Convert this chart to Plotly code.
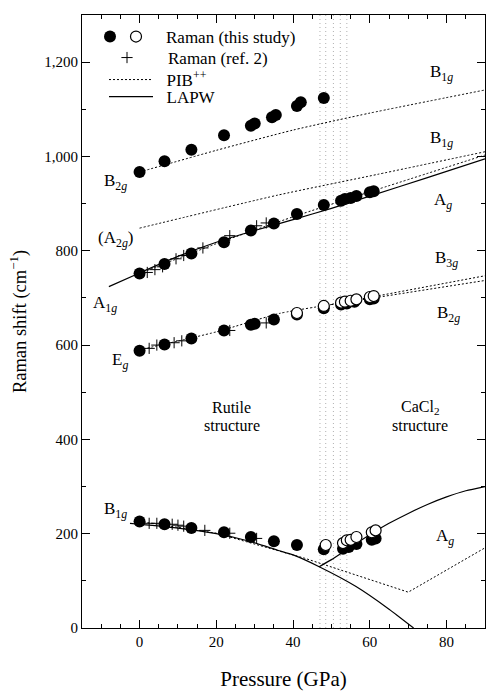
import plotly.graph_objects as go

# ---------------- data ----------------
# Raman, this study (filled circles)
b2g_P = [0, 6.5, 13.5, 22, 29, 30, 34.5, 35.5, 41, 42, 48]
b2g_R = [967, 990, 1014, 1045, 1065, 1070, 1083, 1088, 1107, 1115, 1124]
a1g_P = [0, 6.5, 13.5, 22, 29, 35, 41, 48, 52.5, 53.5, 55, 56.5, 60, 61]
a1g_R = [752, 772, 794, 818, 843, 858, 878, 897, 906, 910, 912, 916, 924, 926]
eg_P = [0, 6.5, 13.5, 22, 29, 30, 35, 41, 48, 52.5, 54, 56, 60, 61]
eg_R = [588, 601, 614, 631, 643, 645, 654, 665, 678, 686, 688, 692, 697, 699]
b1g_P = [0, 6.5, 13.5, 22, 29, 35, 41, 48, 53, 54.5, 56.5, 60.5, 61.5]
b1g_R = [226, 220, 212, 203, 193, 184, 176, 167, 168, 172, 178, 187, 190]

# Raman, this study (open circles)
eg_open_P = [41, 48, 52.5, 53.5, 55, 56.5, 60, 61]
eg_open_R = [668, 683, 690, 692, 694, 697, 702, 704]
b1g_open_P = [48.5, 53, 54, 55, 56.5, 60.5, 61.5]
b1g_open_R = [176, 180, 186, 187, 193, 203, 207]

# Raman, ref. 2 (crosses)
ref_a1g_P = [2, 4, 6, 9.5, 11.5, 16.5, 23.5, 30.5, 33]
ref_a1g_R = [754, 760, 766, 783, 790, 806, 832, 853, 859]
ref_eg_P = [2.5, 4.5, 9, 11, 23.5, 33]
ref_eg_R = [593, 600, 605, 609, 631, 647]
ref_b1g_P = [2.5, 4.5, 8.5, 10, 11.5, 17, 23.5, 30.5]
ref_b1g_R = [222, 222, 220, 218, 216, 207, 201, 190]

# PIB++ calculations (dotted)
pib_b2g_P = [0, 20, 40, 60, 90]
pib_b2g_R = [967, 1013, 1056, 1092, 1141]
pib_a2g_P = [0, 36, 62, 90]
pib_a2g_R = [848, 918, 962, 1010]
pib_a1g_P = [0, 20, 40, 60, 90]
pib_a1g_R = [752, 815, 872, 925, 1003]
pib_eg_P = [0, 20, 36.4, 50]
pib_eg_R = [590, 628, 667, 686]
pib_b3g_P = [50, 90]
pib_b3g_R = [686, 747]
pib_b2g_hp_P = [50, 90]
pib_b2g_hp_R = [686, 737]
pib_b1g_P = [0, 20, 43, 70, 90]
pib_b1g_R = [226, 201, 148, 76, 170]

# LAPW calculations (solid)
lapw_a1g_P = [-8, 0, 10, 20, 30, 40, 50, 60, 75, 90]
lapw_a1g_R = [724, 753, 788, 818, 843, 866, 890, 916, 955, 995]
lapw_b1g_P = [-2.5, 0, 10, 20, 28.6, 36, 40, 46.8, 56.4, 65, 71.4]
lapw_b1g_R = [222, 220, 212, 200, 184, 165, 155, 130, 88, 40, 0]
lapw_ag_P = [46.8, 50, 55, 60, 65, 70, 75, 80, 85, 90]
lapw_ag_R = [130, 145, 172, 198, 222, 243, 262, 278, 291, 300]

# transition region (dotted band)
transition_P = [47, 48.5, 50.5, 52.3, 54]

# ticks
x_tickvals = [0, 20, 40, 60, 80]
y_tickvals = [0, 200, 400, 600, 800, 1000, 1200]
y_ticktext = ["0", "200", "400", "600", "800", "1,000", "1,200"]

# mode labels
left_labels = ["B<sub>2<i>g</i></sub>", "(A<sub>2<i>g</i></sub>)", "A<sub>1<i>g</i></sub>",
               "E<sub><i>g</i></sub>", "B<sub>1<i>g</i></sub>"]
left_label_P = [-6.3, -6.2, -9.0, -5.2, -6.3]
left_label_R = [946, 824, 688, 566, 250]
right_labels = ["B<sub>1<i>g</i></sub>", "B<sub>1<i>g</i></sub>", "A<sub><i>g</i></sub>",
                "B<sub>3<i>g</i></sub>", "B<sub>2<i>g</i></sub>", "A<sub><i>g</i></sub>"]
right_label_P = [78.7, 78.7, 79.0, 80.0, 80.5, 79.7]
right_label_R = [1176, 1038, 906, 783, 666, 194]

structure_texts = ["Rutile", "structure", "CaCl<sub>2</sub>", "structure"]
structure_P = [24, 24, 73, 73]
structure_R = [467, 429, 467, 429]

FONT = "Liberation Serif, serif"
BLACK = "black"

fig = go.Figure()

# transition band
for p in transition_P:
    fig.add_shape(type="line", xref="x", yref="paper", x0=p, x1=p, y0=0, y1=1,
                  line=dict(color="#b0b0b0", width=1, dash="1px,3px"), layer="below")

DOT = "2px,2px"


def curve(P, R, dash, smooth=True):
    fig.add_trace(go.Scatter(x=P, y=R, mode="lines", showlegend=False, hoverinfo="skip",
                             line=dict(color=BLACK, width=1 if dash != "solid" else 1.2,
                                       dash=dash, shape="spline" if smooth else "linear",
                                       smoothing=0.6)))


curve(pib_b2g_P, pib_b2g_R, DOT)
curve(pib_a2g_P, pib_a2g_R, DOT)
curve(pib_a1g_P, pib_a1g_R, DOT)
curve(pib_eg_P, pib_eg_R, DOT)
curve(pib_b3g_P, pib_b3g_R, DOT)
curve(pib_b2g_hp_P, pib_b2g_hp_R, DOT)
curve(pib_b1g_P, pib_b1g_R, DOT, smooth=False)
curve(lapw_a1g_P, lapw_a1g_R, "solid")
curve(lapw_b1g_P, lapw_b1g_R, "solid")
curve(lapw_ag_P, lapw_ag_R, "solid")

ref_P = ref_a1g_P + ref_eg_P + ref_b1g_P
ref_R = ref_a1g_R + ref_eg_R + ref_b1g_R
fil_P = b2g_P + a1g_P + eg_P + b1g_P
fil_R = b2g_R + a1g_R + eg_R + b1g_R
open_P = eg_open_P + b1g_open_P
open_R = eg_open_R + b1g_open_R

# filled circles (legend row 1, symbol only)
fig.add_trace(go.Scatter(x=fil_P, y=fil_R, mode="markers", name=" ", legend="legend",
                         marker=dict(symbol="circle", size=12, color=BLACK,
                                     line=dict(color=BLACK, width=0))))
# crosses
fig.add_trace(go.Scatter(x=ref_P, y=ref_R, mode="markers", name="Raman (ref. 2)",
                         legend="legend3",
                         marker=dict(symbol="cross-thin", size=8, color=BLACK,
                                     line=dict(color=BLACK, width=1))))
# open circles (legend row 1, with text)
fig.add_trace(go.Scatter(x=open_P, y=open_R, mode="markers", name="Raman (this study)",
                         legend="legend2",
                         marker=dict(symbol="circle", size=11, color="white",
                                     line=dict(color=BLACK, width=1.2))))
# line legend entries
fig.add_trace(go.Scatter(x=[None], y=[None], mode="lines",
                         name="&nbsp;&nbsp;PIB<sup>++</sup>",
                         legend="legend4", line=dict(color=BLACK, width=1, dash=DOT)))
fig.add_trace(go.Scatter(x=[None], y=[None], mode="lines", name="&nbsp;&nbsp;LAPW",
                         legend="legend5", line=dict(color=BLACK, width=1.2)))

for t, p, r in zip(left_labels, left_label_P, left_label_R):
    fig.add_annotation(x=p, y=r, text=t, showarrow=False, xanchor="center",
                       font=dict(family=FONT, size=17, color=BLACK))
for t, p, r in zip(right_labels, right_label_P, right_label_R):
    fig.add_annotation(x=p, y=r, text=t, showarrow=False, xanchor="center",
                       font=dict(family=FONT, size=17, color=BLACK))
for t, p, r in zip(structure_texts, structure_P, structure_R):
    fig.add_annotation(x=p, y=r, text=t, showarrow=False, xanchor="center",
                       font=dict(family=FONT, size=16, color=BLACK))

axis_common = dict(showline=True, linecolor=BLACK, linewidth=1.2, mirror="allticks",
                   ticks="inside", ticklen=8, tickcolor=BLACK, tickwidth=1,
                   showgrid=False, zeroline=False, automargin=False,
                   tickfont=dict(family=FONT, size=15, color=BLACK))

fig.update_xaxes(range=[-15, 90], tickvals=x_tickvals,
                 minor=dict(dtick=5, ticks="inside", ticklen=4, tickcolor=BLACK),
                 title=dict(text="Pressure (GPa)", font=dict(family=FONT, size=21, color=BLACK),
                            standoff=29),
                 **axis_common)
fig.update_yaxes(range=[0, 1300], tickvals=y_tickvals, ticktext=y_ticktext,
                 minor=dict(dtick=100, ticks="inside", ticklen=4, tickcolor=BLACK),
                 title=dict(text="Raman shift (cm<sup>−1</sup>)",
                            font=dict(family=FONT, size=18.5, color=BLACK), standoff=12),
                 **axis_common)

PLOT_L, PLOT_T, PLOT_W, PLOT_H = 82, 15, 403, 613


def lx(px):
    return (px - PLOT_L) / PLOT_W


def ly(py):
    return 1 - (py - PLOT_T) / PLOT_H


leg_font = dict(family=FONT, size=17, color=BLACK)
leg_common = dict(xanchor="left", yanchor="middle", bgcolor="rgba(0,0,0,0)",
                  borderwidth=0, font=leg_font)

fig.update_layout(
    width=486, height=691,
    margin=dict(l=82, r=1, t=15, b=63),
    paper_bgcolor="white", plot_bgcolor="white",
    font=dict(family=FONT, size=15, color=BLACK),
    legend=dict(x=lx(90), y=ly(37), itemwidth=30, **leg_common),
    legend2=dict(x=lx(106), y=ly(37), itemwidth=50, **leg_common),
    legend3=dict(x=lx(86), y=ly(58), itemwidth=72, **leg_common),
    legend4=dict(x=lx(104), y=ly(80), itemwidth=44, **leg_common),
    legend5=dict(x=lx(104), y=ly(97), itemwidth=44, **leg_common),
)

fig.write_html("out.html", config={"displayModeBar": False},
               post_script="document.body.style.margin='0';document.body.style.overflow='hidden';")
